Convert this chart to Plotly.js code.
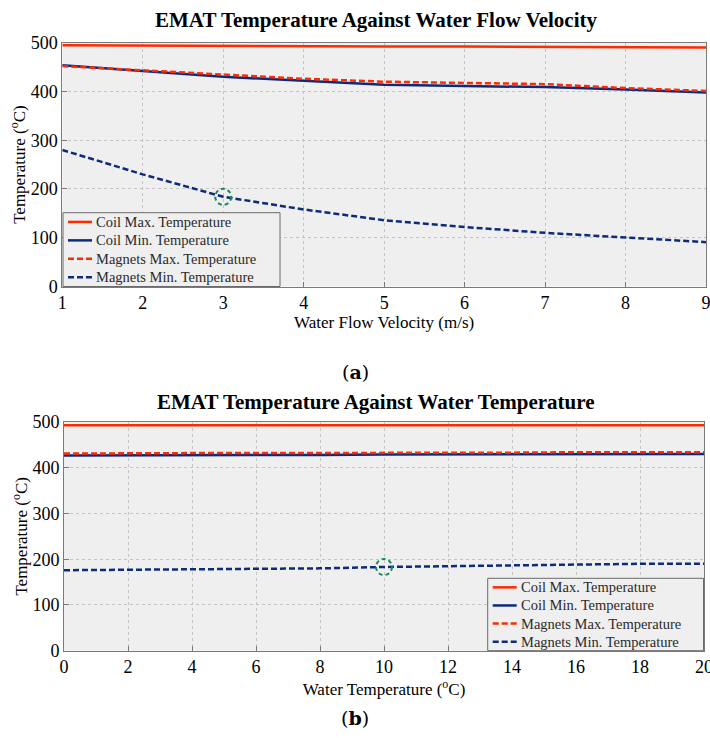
<!DOCTYPE html>
<html>
<head>
<meta charset="utf-8">
<script src="https://cdn.plot.ly/plotly-3.0.1.min.js"></script>
<style>html,body{margin:0;padding:0;background:#fff;}#chart{width:710px;height:738px;}</style>
</head>
<body>
<div id="chart"></div>
<script>
// ---- Panel (a): EMAT temperature vs water flow velocity ----
var velocity = [1, 2, 3, 4, 5, 6, 7, 8, 9];
var coilMaxA = [495, 494, 493, 493, 492, 492, 491, 491, 490];
var coilMinA = [454, 442, 430, 422, 414, 411, 409, 404, 398];
var magMaxA  = [452, 443, 434, 426, 420, 417, 415, 407, 401];
var magMinA  = [280, 230, 184, 158, 136, 122, 110, 101, 91];

// ---- Panel (b): EMAT temperature vs water temperature ----
var waterTemp = [0, 2, 4, 6, 8, 10, 12, 14, 16, 18, 20];
var coilMaxB = [493, 493, 493, 493, 493, 493, 493, 493, 493, 493, 493];
var coilMinB = [427, 427, 428, 428, 428, 429, 429, 429, 430, 430, 430];
var magMaxB  = [431, 432, 432, 432, 432, 433, 433, 433, 434, 434, 434];
var magMinB  = [176, 177, 178, 179, 180, 183, 185, 187, 189, 190, 190];

var seriesNames = ["Coil Max. Temperature", "Coil Min. Temperature",
                   "Magnets Max. Temperature", "Magnets Min. Temperature"];
var highlightA = 2;   // index of highlighted point in panel (a)
var highlightB = 5;   // index of highlighted point in panel (b)

var RED = "#ff2a00", NAVY = "#0c2b7c";
var styles = [
  {color: RED, dash: "solid"},
  {color: NAVY, dash: "solid"},
  {color: RED, dash: "6px,3px"},
  {color: NAVY, dash: "6px,3px"}
];

function mk(x, ys, xa, ya) {
  return ys.map(function (y, i) {
    return {
      x: x, y: y, type: "scatter", mode: "lines", name: seriesNames[i],
      xaxis: xa, yaxis: ya, showlegend: false,
      line: {color: styles[i].color, dash: styles[i].dash, width: 2.5}
    };
  });
}

var data = mk(velocity, [coilMaxA, coilMinA, magMaxA, magMinA], "x", "y")
  .concat(mk(waterTemp, [coilMaxB, coilMinB, magMaxB, magMinB], "x2", "y2"));

var FONT = "Times New Roman";
var axisCommon = {
  showline: true, mirror: true, linecolor: "#7a7a7a", linewidth: 1,
  ticks: "inside", ticklen: 5, tickcolor: "#7a7a7a",
  showgrid: true, gridcolor: "#c4c4c4", griddash: "dot", gridwidth: 1,
  zeroline: false, ticklabeloverflow: "allow",
  tickfont: {family: FONT, size: 18, color: "#000"}
};
function ax(extra) { return Object.assign({}, axisCommon, extra); }

function px(p) { return p / 710; }
function py(p) { return (738 - p) / 738; }
var yDomA = [py(286.5), py(42.7)];
var yDomB = [py(650.7), py(422)];

var annotations = [
  {text: "<b>EMAT Temperature Against Water Flow Velocity</b>", xref: "paper", yref: "paper",
   x: 0.53, y: py(20), yanchor: "middle", showarrow: false, font: {family: FONT, size: 21}},
  {text: "<b>EMAT Temperature Against Water Temperature</b>", xref: "paper", yref: "paper",
   x: 0.53, y: py(402), yanchor: "middle", showarrow: false, font: {family: FONT, size: 21}},
  {text: "(<b>a</b>)", xref: "paper", yref: "paper", x: 0.5, y: py(372), yanchor: "middle",
   showarrow: false, font: {family: "DejaVu Serif", size: 19}},
  {text: "(<b>b</b>)", xref: "paper", yref: "paper", x: 0.5, y: py(718), yanchor: "middle",
   showarrow: false, font: {family: "DejaVu Serif", size: 19}}
];
var shapes = [
  {type: "circle", xref: "x", yref: "y", xsizemode: "pixel", ysizemode: "pixel", layer: "above",
   xanchor: velocity[highlightA], yanchor: magMinA[highlightA], x0: -8, x1: 8, y0: -8, y1: 8,
   line: {color: "#15895a", width: 2, dash: "4px,3px"}},
  {type: "circle", xref: "x2", yref: "y2", xsizemode: "pixel", ysizemode: "pixel", layer: "above",
   xanchor: waterTemp[highlightB], yanchor: magMinB[highlightB], x0: -8, x1: 8, y0: -8, y1: 8,
   line: {color: "#15895a", width: 2, dash: "4px,3px"}}
];

// Legend boxes (MATLAB style), built from seriesNames / styles
function addLegend(left, right, top, bottom) {
  shapes.push({type: "rect", xref: "paper", yref: "paper", layer: "above",
    x0: px(left), x1: px(right), y0: py(bottom), y1: py(top),
    fillcolor: "#efefef", line: {color: "#6a6a6a", width: 1}});
  var rowH = (bottom - top) / 4;
  seriesNames.forEach(function (name, i) {
    var yc = top + rowH * (i + 0.5);
    shapes.push({type: "line", xref: "paper", yref: "paper", layer: "above",
      x0: px(left + 5), x1: px(left + 29), y0: py(yc), y1: py(yc),
      line: {color: styles[i].color, dash: styles[i].dash, width: 2.5}});
    annotations.push({text: name, xref: "paper", yref: "paper", showarrow: false,
      x: px(left + 31), y: py(yc), xanchor: "left", yanchor: "middle",
      font: {family: FONT, size: 14.5, color: "#2a2a2a"}});
  });
}
addLegend(63, 280, 212.7, 286.5);
addLegend(487.7, 703.5, 578.3, 650.7);

var layout = {
  width: 710, height: 738,
  margin: {l: 0, r: 0, t: 0, b: 0},
  paper_bgcolor: "#ffffff",
  plot_bgcolor: "#efefef",
  showlegend: false,
  font: {family: FONT, color: "#000"},
  xaxis: ax({domain: [px(62.3), px(706)], anchor: "y", range: [1, 9], dtick: 1,
    title: {text: "Water Flow Velocity (m/s)", font: {family: FONT, size: 17}, standoff: 0}}),
  yaxis: ax({domain: yDomA, anchor: "x", range: [0, 500], dtick: 100,
    title: {text: "Temperature (<sup>o</sup>C)", font: {family: FONT, size: 17}, standoff: 0}}),
  xaxis2: ax({domain: [px(64), px(704)], anchor: "y2", range: [0, 20], dtick: 2,
    title: {text: "Water Temperature (<sup>o</sup>C)", font: {family: FONT, size: 17}, standoff: 0}}),
  yaxis2: ax({domain: yDomB, anchor: "x2", range: [0, 500], dtick: 100,
    title: {text: "Temperature (<sup>o</sup>C)", font: {family: FONT, size: 17}, standoff: 0}}),
  annotations: annotations,
  shapes: shapes
};

Plotly.newPlot("chart", data, layout, {staticPlot: true});
</script>
</body>
</html>
